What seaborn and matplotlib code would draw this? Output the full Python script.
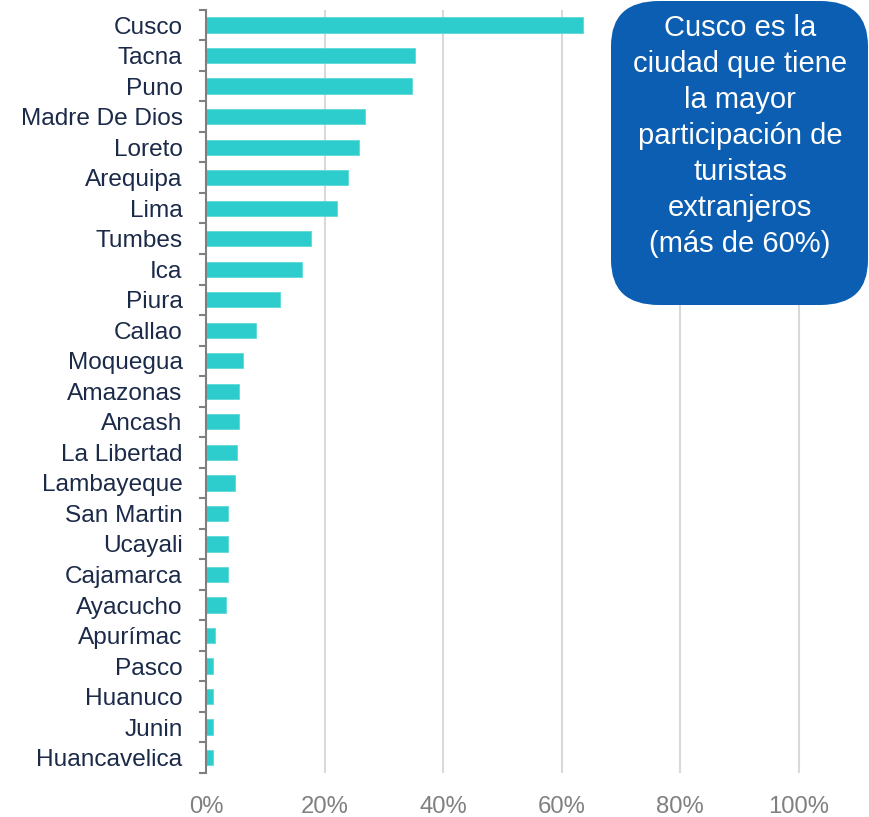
import numpy as np
import pandas as pd
import matplotlib
matplotlib.use("Agg")
import matplotlib.pyplot as plt
import seaborn as sns
from matplotlib.patches import FancyBboxPatch
from matplotlib.ticker import FuncFormatter, FixedLocator

# Participación de turistas extranjeros por región (%)
regiones = ["Cusco", "Tacna", "Puno", "Madre De Dios", "Loreto", "Arequipa", "Lima",
            "Tumbes", "Ica", "Piura", "Callao", "Moquegua", "Amazonas", "Ancash",
            "La Libertad", "Lambayeque", "San Martin", "Ucayali", "Cajamarca",
            "Ayacucho", "Apurímac", "Pasco", "Huanuco", "Junin", "Huancavelica"]
participacion = [63.5, 35.2, 34.8, 26.8, 25.8, 23.9, 22.1, 17.7, 16.2, 12.4,
                 8.4, 6.2, 5.6, 5.6, 5.2, 4.9, 3.7, 3.7, 3.7, 3.4,
                 1.5, 1.2, 1.2, 1.2, 1.2]
ticks_x = [0, 20, 40, 60, 80, 100]
nota = ("Cusco es la\nciudad que tiene\nla mayor\nparticipación de\n"
        "turistas\nextranjeros\n(más de 60%)")

df = pd.DataFrame({"region": regiones, "pct": participacion})

sns.set_theme(style="white")
plt.rcParams["font.family"] = ["Liberation Sans", "DejaVu Sans"]

fig = plt.figure(figsize=(8.7, 8.17), dpi=100)
ax = fig.add_axes([0.237, 0.054, 0.688, 0.934])

sns.barplot(data=df, x="pct", y="region", orient="h", color="#2ECDCD",
            saturation=1, width=0.5, edgecolor="#5ED8D8", linewidth=0.6, ax=ax)

ax.set_xlim(0, 101)
ax.set_ylim(len(regiones) - 0.5, -0.5)
ax.xaxis.set_major_locator(FixedLocator(ticks_x))
ax.xaxis.set_major_formatter(FuncFormatter(lambda v, p: f"{v:.0f}%"))
ax.grid(axis="x", color="#D9D9D9", linewidth=1.5)
ax.set_axisbelow(True)

for s in ["top", "right", "bottom"]:
    ax.spines[s].set_visible(False)
ax.spines["left"].set_color("#7F7F7F")
ax.spines["left"].set_linewidth(1.5)

# marcas entre categorías
ax.set_yticks(np.arange(-0.5, len(regiones), 1), minor=True)
ax.tick_params(axis="y", which="minor", left=True, length=5, width=1.5, color="#7F7F7F")
ax.tick_params(axis="y", which="major", length=0, pad=17, labelsize=17.6, labelcolor="#1B2A48")
ax.tick_params(axis="x", which="both", length=0, pad=17, labelsize=17.2, labelcolor="#808080")
ax.set_xlabel("")
ax.set_ylabel("")

# cuadro de nota
box = FancyBboxPatch((611 / 870, 1 - 305 / 817), 257 / 870, 304 / 817,
                     boxstyle="round,pad=0,rounding_size=0.055",
                     transform=fig.transFigure, facecolor="#0B5EB1",
                     edgecolor="none", zorder=5)
fig.patches.append(box)
fig.text(740 / 870, 1 - 136 / 817, nota, ha="center", va="center",
         multialignment="center", color="white", fontsize=21,
         linespacing=1.36, zorder=6)

fig.savefig("out.png", dpi=100)
